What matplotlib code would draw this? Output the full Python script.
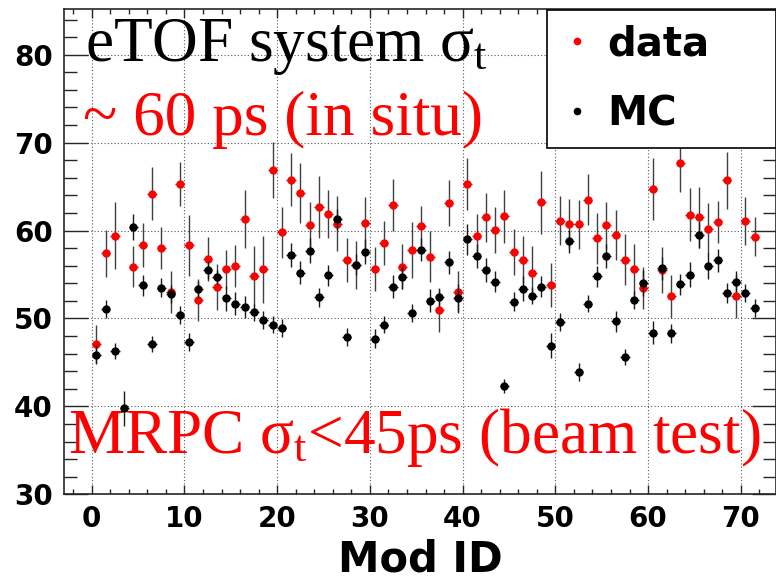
import matplotlib
matplotlib.use("Agg")
import matplotlib.pyplot as plt
from matplotlib.lines import Line2D
from matplotlib.ticker import MultipleLocator
import numpy as np

# module numbers (bin centres sit at id + 0.5)
mod_id = np.arange(72)

# measured time resolution per module
data_sigma = [47.1, 57.4, 59.4, np.nan, 55.9, 58.4, 64.2, 58.0, 53.0, 65.3,
              58.3, 52.1, 56.8, 53.6, 55.6, 56.0, 61.3, 54.8, 55.6, 66.9,
              59.8, 65.8, 64.3, 60.6, 62.7, 61.9, 60.8, 56.6, 56.1, 60.9,
              55.6, 58.6, 62.9, 55.9, 57.8, 60.5, 57.0, 51.0, 63.1, 53.0,
              65.3, 59.4, 61.5, 60.1, 61.6, 57.6, 56.7, 55.2, 63.2, 53.8,
              61.1, 60.8, 60.7, 63.5, 59.1, 60.6, 59.5, 56.7, 55.6, 53.5,
              64.7, 55.5, 52.5, 67.7, 61.8, 61.5, 60.2, 61.0, 65.7, 52.5,
              61.1, 59.3]
data_err = [2.2, 2.7, 3.8, np.nan, 2.3, 2.5, 3.0, 2.4, 2.4, 2.5,
            3.5, 2.4, 2.5, 2.6, 2.2, 2.4, 3.3, 3.4, 3.8, 3.2,
            2.9, 3.0, 3.4, 2.7, 3.5, 2.7, 3.1, 2.5, 2.7, 2.9,
            2.5, 2.5, 3.0, 2.6, 3.2, 2.3, 2.9, 2.5, 2.6, 2.4,
            3.0, 2.5, 2.8, 2.6, 3.0, 2.6, 2.7, 3.0, 3.6, 2.5,
            2.8, 2.8, 2.8, 2.9, 2.9, 2.7, 2.8, 2.9, 2.9, 2.4,
            3.5, 2.6, 2.4, 3.3, 3.0, 3.5, 2.9, 2.4, 3.2, 2.4,
            2.7, 2.2]

# simulated time resolution per module
mc_sigma = [45.9, 51.1, 46.3, 39.8, 60.4, 53.8, 47.1, 53.5, 52.8, 50.4,
            47.3, 53.3, 55.5, 54.7, 52.3, 51.7, 51.3, 50.7, 49.8, 49.3,
            48.9, 57.2, 55.2, 57.7, 52.4, 54.9, 61.3, 47.9, 56.1, 57.6,
            47.7, 49.3, 53.6, 54.7, 50.6, 57.8, 52.0, 52.4, 56.4, 52.3,
            59.0, 57.1, 55.5, 54.2, 42.3, 51.9, 53.4, 52.6, 53.6, 46.9,
            49.6, 58.8, 43.9, 51.7, 54.8, 57.1, 49.7, 45.6, 52.1, 54.0,
            48.4, 55.7, 48.3, 53.9, 55.0, 59.5, 56.0, 56.6, 52.9, 54.2,
            52.9, 51.2]
mc_err = [1.1, 1.0, 0.9, 2.0, 1.5, 1.2, 0.9, 1.1, 1.0, 1.0,
          1.0, 1.0, 1.0, 0.8, 1.4, 1.3, 1.3, 1.0, 1.0, 1.0,
          1.0, 1.4, 1.3, 1.4, 1.1, 1.2, 1.2, 1.0, 1.2, 1.4,
          1.1, 1.0, 1.3, 1.3, 1.0, 1.3, 1.3, 1.0, 1.3, 1.6,
          1.8, 1.4, 1.4, 1.2, 0.8, 1.1, 1.4, 1.0, 1.2, 1.4,
          1.0, 1.3, 1.0, 1.0, 1.2, 1.4, 1.2, 0.9, 1.0, 1.5,
          1.3, 1.3, 1.1, 1.2, 1.4, 1.5, 1.5, 1.3, 1.1, 1.2,
          1.0, 1.0]

plt.rcParams['font.family'] = ['DejaVu Sans']
plt.rcParams['font.weight'] = 'normal'
plt.rcParams['mathtext.fontset'] = 'custom'
plt.rcParams['mathtext.rm'] = 'Liberation Serif'
plt.rcParams['mathtext.it'] = 'Liberation Serif'

W, H = 776, 582
fig = plt.figure(figsize=(W / 100, H / 100), dpi=100)
# frame in pixels: left 64, right 776, top 9, bottom 494
ax = fig.add_axes([64 / W, 1 - 494.3 / H, 712 / W, 485.3 / H])

x = mod_id + 0.5
ax.errorbar(x, data_sigma, yerr=data_err, xerr=0.5, fmt='o', color='red',
            ms=5, ecolor='0.25', elinewidth=1, capsize=0, zorder=3)
ax.errorbar(x, mc_sigma, yerr=mc_err, xerr=0.5, fmt='o', color='black',
            ms=5, ecolor='0.1', elinewidth=1, capsize=0, zorder=4)

ax.set_xlim(-2.99, 73.8)
ax.set_ylim(30, 85.2)
ax.set_xticks(range(0, 71, 10))
ax.set_yticks(range(30, 81, 10))
ax.xaxis.set_minor_locator(MultipleLocator(2))
ax.yaxis.set_minor_locator(MultipleLocator(2))
ax.tick_params(which='both', direction='in', top=True, right=True,
               width=1, color='0.15', labelsize=20)
ax.tick_params(axis='x', which='major', length=6.5, pad=8)
ax.tick_params(axis='x', which='minor', length=3.3)
ax.tick_params(axis='y', which='major', length=17, pad=8)
ax.tick_params(axis='y', which='minor', length=9.4)
for lbl in ax.get_xticklabels() + ax.get_yticklabels():
    lbl.set_fontweight('bold')
ax.set_axisbelow(True)
ax.grid(True, which='major', color='0.35', linestyle=(0, (1, 2)), lw=0.8)
for s in ax.spines.values():
    s.set_linewidth(1.2)
    s.set_color('0.15')

ax.set_xlabel('Mod ID', fontsize=30, fontweight='bold')
ax.xaxis.label.set_va('baseline')
ax.xaxis.set_label_coords(0.5, -(572 - 494.3) / 485.3)

serif = ['Liberation Serif', 'DejaVu Serif']
ax.text(0.0295, 0.893, r'eTOF system $\sigma_{\mathrm{t}}$', transform=ax.transAxes,
        family=serif, fontsize=45.5, color='black', va='baseline', zorder=1.5)
ax.text(0.0267, 0.740, '~ 60 ps (in situ)', transform=ax.transAxes,
        family=serif, fontsize=45.5, color='red', va='baseline', zorder=1.5)
ax.text(0.0056, 0.085, r'MRPC $\sigma_{\mathrm{t}}$<45ps (beam test)',
        transform=ax.transAxes, family=serif, fontsize=45.5, color='red',
        va='baseline', zorder=1.5)

handles = [Line2D([], [], ls='none', marker='o', color='red', ms=4.5),
           Line2D([], [], ls='none', marker='o', color='black', ms=4.5)]
leg = ax.legend(handles, ['data', 'MC'], loc='upper left',
                bbox_to_anchor=((547 - 64) / 712, 0.70, (776 - 547) / 712, 0.298),
                mode='expand', borderaxespad=0, fancybox=False,
                framealpha=1, edgecolor='black', borderpad=0.35,
                handlelength=0.8, handletextpad=0.35, labelspacing=0.75,
                prop={'size': 29, 'weight': 'bold'})
leg.get_frame().set_linewidth(1.2)

fig.savefig('out.png', dpi=100)
